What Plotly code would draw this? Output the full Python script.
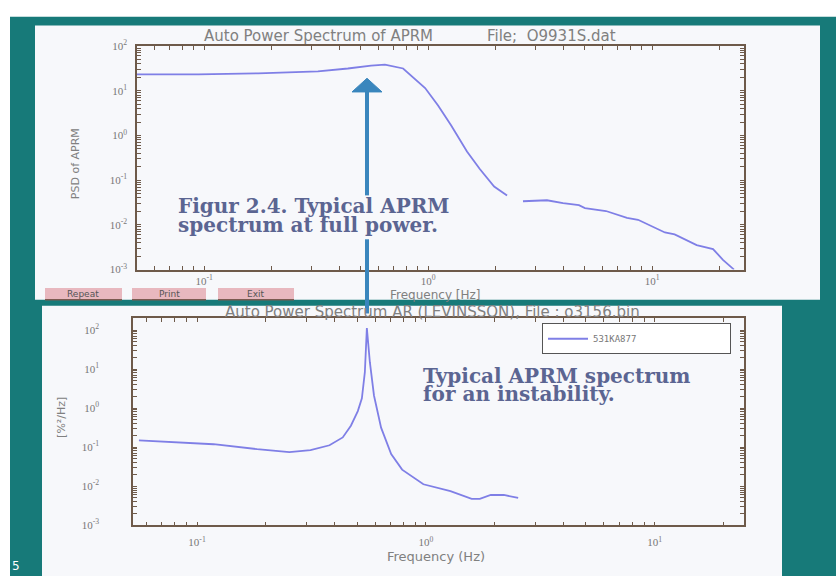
import plotly.graph_objects as go

# ---------------- data ----------------
top_freq = [0.05, 0.094, 0.174, 0.322, 0.438, 0.556, 0.641, 0.773, 0.969, 1.107, 1.265, 1.49, 1.70, 1.97, 2.25,
            None,
            2.65, 3.39, 4.00, 4.71, 5.01, 6.22, 7.72, 8.65, 11.4, 12.6, 15.8, 18.7, 20.7, 23.2]
top_psd = [23.3, 23.3, 24.5, 27.1, 31.5, 36.6, 38.5, 31.5, 11.5, 4.66, 1.70, 0.438, 0.177, 0.0718, 0.0456,
           None,
           0.0337, 0.0355, 0.0306, 0.0276, 0.0238, 0.0204, 0.0144, 0.0130, 0.00676, 0.0061, 0.00352, 0.00288,
           0.00165, 0.001]

bot_freq = [0.0557, 0.081, 0.118, 0.183, 0.253, 0.313, 0.379, 0.433, 0.47, 0.504, 0.525, 0.541, 0.552,
            0.569, 0.593, 0.637, 0.705, 0.787, 0.975, 1.28, 1.585, 1.72, 1.92, 2.19, 2.53]
bot_psd = [0.150, 0.133, 0.119, 0.089, 0.075, 0.084, 0.112, 0.178, 0.355, 0.84, 1.78, 8.4, 112,
           15.0, 2.11, 0.316, 0.0668, 0.0266, 0.0112, 0.0075, 0.00473, 0.00473, 0.00596, 0.00596, 0.00501]

top_xtick_vals = [0.1, 1, 10]
top_xtick_text = ["10<sup>-1</sup>", "10<sup>0</sup>", "10<sup>1</sup>"]
top_ytick_vals = [0.001, 0.01, 0.1, 1, 10, 100]
top_ytick_text = ["10<sup>-3</sup>", "10<sup>-2</sup>", "10<sup>-1</sup>", "10<sup>0</sup>", "10<sup>1</sup>", "10<sup>2</sup>"]
bot_xtick_vals = [0.1, 1, 10]
bot_xtick_text = ["10<sup>-1</sup>", "10<sup>0</sup>", "10<sup>1</sup>"]
bot_ytick_vals = [0.001, 0.01, 0.1, 1, 10, 100]
bot_ytick_text = ["10<sup>-3</sup>", "10<sup>-2</sup>", "10<sup>-1</sup>", "10<sup>0</sup>", "10<sup>1</sup>", "10<sup>2</sup>"]

legend_name = "531KA877"

# ---------------- styling helpers ----------------
W, H = 836, 582
def px(x):
    return x / W
def py(y):
    return 1 - y / H

TEAL = "#177a79"
PANEL = "#f7f8fb"
AXC = "#6e5a4a"
LINEC = "#7f7fe6"
TXT = "#5b6592"
ARROW = "#3a86bd"

TOP_XR = [-1.3, 1.41]
TOP_YR = [-3, 2]
BOT_XR = [-1.28, 1.39]
BOT_YR = [-3, 2.3]

# major ticks with labels plus unlabeled minor ticks (2..9 x each decade)
def with_minor(vals, texts, lo, hi):
    pos = {}
    for e in range(lo, hi + 1):
        for m in range(2, 10):
            pos[m * 10.0 ** e] = ""
    for v, t in zip(vals, texts):
        pos[v] = t
    keys = sorted(pos)
    return keys, [pos[k] for k in keys]

fig = go.Figure()
fig.add_trace(go.Scatter(x=top_freq, y=top_psd, mode="lines", line=dict(color=LINEC, width=1.8),
                         xaxis="x", yaxis="y", showlegend=False, connectgaps=False))
fig.add_trace(go.Scatter(x=bot_freq, y=bot_psd, mode="lines", line=dict(color=LINEC, width=1.8),
                         xaxis="x2", yaxis="y2", name=legend_name, showlegend=True))

tickfont = dict(family="Liberation Serif", size=11, color="#777777")
def axis(vals, texts, lo, hi, **kw):
    tv, tt = with_minor(vals, texts, lo, hi)
    d = dict(type="log", showgrid=False, zeroline=False, showline=True, linecolor=AXC, linewidth=1.5,
             mirror="ticks", ticks="inside", ticklen=4, tickcolor=AXC, tickwidth=1, tickfont=tickfont,
             tickmode="array", tickvals=tv, ticktext=tt)
    d.update(kw)
    return d

fig.update_layout(
    width=W, height=H, margin=dict(l=0, r=0, t=0, b=0),
    paper_bgcolor="white", plot_bgcolor="#fcfcfe",
    xaxis=axis(top_xtick_vals, top_xtick_text, -2, 1, domain=[px(137), px(744)], range=TOP_XR,
               anchor="y", ticklabelstandoff=0),
    yaxis=axis(top_ytick_vals, top_ytick_text, -3, 1, domain=[py(268), py(39)], range=TOP_YR,
               anchor="x", ticklabelstandoff=6),
    xaxis2=axis(bot_xtick_vals, bot_xtick_text, -2, 1, domain=[px(133), px(744)], range=BOT_XR,
                anchor="y2", ticklabelstandoff=6),
    yaxis2=axis(bot_ytick_vals, bot_ytick_text, -3, 2, domain=[py(530), py(318)], range=BOT_YR,
                anchor="x2", ticklabelstandoff=30),
    legend=dict(x=px(542), y=py(323), xanchor="left", yanchor="top", bgcolor="white",
                bordercolor="#555555", borderwidth=1, orientation="h", entrywidth=132,
                font=dict(family="DejaVu Sans Mono", size=9, color="#777777"),
                itemwidth=40, tracegroupgap=0),
    showlegend=True,
)

shapes = []
shapes.append(dict(type="rect", xref="paper", yref="paper", x0=px(10), x1=px(836), y0=py(582), y1=py(9),
                   fillcolor=TEAL, line=dict(width=0), layer="below"))
shapes.append(dict(type="rect", xref="paper", yref="paper", x0=px(35), x1=px(820), y0=py(299), y1=py(18),
                   fillcolor=PANEL, line=dict(width=0), layer="below"))
shapes.append(dict(type="rect", xref="paper", yref="paper", x0=px(42), x1=px(782), y0=py(582), y1=py(305),
                   fillcolor=PANEL, line=dict(width=0), layer="below"))
for x0, x1 in [(45, 122), (132, 206), (218, 294)]:
    shapes.append(dict(type="rect", xref="paper", yref="paper", x0=px(x0), x1=px(x1), y0=py(299), y1=py(287),
                       fillcolor="#e8b8bf", line=dict(width=0)))
    shapes.append(dict(type="line", xref="paper", yref="paper", x0=px(x0), x1=px(x1), y0=py(299), y1=py(299),
                       line=dict(color="#7a5a50", width=1.5)))
shapes.append(dict(type="line", xref="paper", yref="paper", x0=px(367), x1=px(367), y0=py(192), y1=py(84),
                   line=dict(color=ARROW, width=4)))
shapes.append(dict(type="line", xref="paper", yref="paper", x0=px(367), x1=px(367), y0=py(313), y1=py(237),
                   line=dict(color=ARROW, width=4)))
shapes.append(dict(type="path", xref="paper", yref="paper",
                   path=f"M {px(352)} {py(86)} L {px(367)} {py(72)} L {px(382)} {py(86)} Z",
                   fillcolor=ARROW, line=dict(color=ARROW, width=1)))
fig.update_layout(shapes=shapes)

ann = []
def add_text(x, y, text, size, color, family, xanchor="left", yanchor="middle", angle=0):
    ann.append(dict(x=px(x), y=py(y), xref="paper", yref="paper", text=text, showarrow=False,
                    xanchor=xanchor, yanchor=yanchor, textangle=angle,
                    font=dict(size=size, color=color, family=family)))

add_text(318, 29, "Auto Power Spectrum of APRM", 15, "#808080", "DejaVu Sans", xanchor="center")
add_text(485, 29, "File;  O9931S.dat", 15, "#808080", "DejaVu Sans")
add_text(436, 294, "Frequency [Hz]", 12, "#808080", "DejaVu Sans", xanchor="center")
add_text(75, 160, "PSD of APRM", 11, "#808080", "DejaVu Sans", xanchor="center", angle=-90)
add_text(433, 311, "Auto Power Spectrum AR (LEVINSSON), File : o3156.bin", 15, "#808080", "DejaVu Sans",
         xanchor="center")
add_text(436, 562, "Frequency (Hz)", 13, "#808080", "DejaVu Sans", xanchor="center")
add_text(62, 420, "[%²/Hz]", 11, "#808080", "DejaVu Sans", xanchor="center", angle=-90)
add_text(83, 293, "Repeat", 9, "#555555", "DejaVu Sans", xanchor="center")
add_text(169, 293, "Print", 9, "#555555", "DejaVu Sans", xanchor="center")
add_text(256, 293, "Exit", 9, "#555555", "DejaVu Sans", xanchor="center")
add_text(176, 203, "<b>Figur 2.4. Typical APRM</b>", 20, TXT, "DejaVu Serif")
add_text(176, 222, "<b>spectrum at full power.</b>", 20, TXT, "DejaVu Serif")
add_text(421, 377, "<b>Typical APRM spectrum</b>", 20, TXT, "DejaVu Serif")
add_text(421, 396, "<b>for an instability.</b>", 20, TXT, "DejaVu Serif")
add_text(16, 572, "5", 12, "white", "DejaVu Sans", xanchor="center")
fig.update_layout(annotations=ann)

fig.write_html("out.html")
